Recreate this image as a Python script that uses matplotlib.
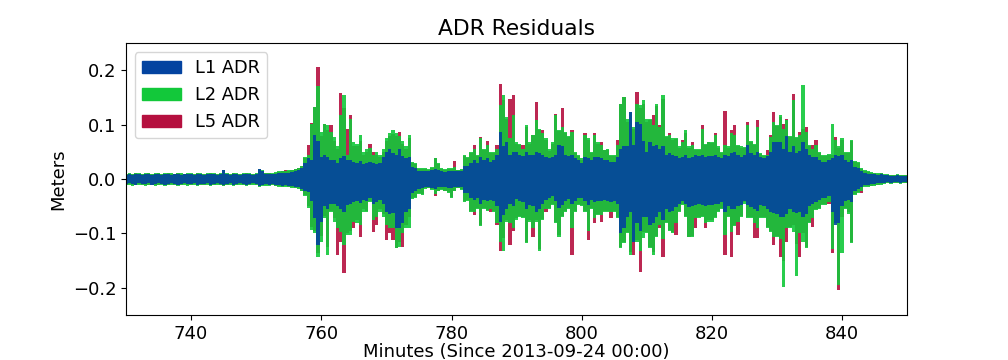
import numpy as np
import matplotlib
matplotlib.use("Agg")
import matplotlib.pyplot as plt
from matplotlib.patches import Patch

# residual envelopes, in millimetres, every half minute 730..850
minutes = np.arange(730, 850.5, 0.5)

l1_hi = [8, 9, 8, 9, 10, 8, 9, 9, 8, 10, 9, 8, 9, 10, 8, 9, 9, 8, 10, 9,
         9, 8, 10, 9, 8, 9, 10, 9, 8, 9, 16, 9, 8, 10, 9, 8, 9, 10, 9, 8,
         9, 18, 15, 9, 10, 9, 10, 11, 12, 11, 12, 13, 15, 17, 20, 30, 38, 35, 81, 70,
         40, 45, 40, 35, 35, 30, 38, 42, 36, 35, 32, 30, 34, 28, 30, 32, 30, 28, 30, 40,
         50, 55, 48, 45, 56, 42, 38, 40, 22, 20, 14, 14, 15, 14, 16, 18, 17, 14, 13, 14,
         14, 15, 14, 15, 25, 25, 30, 35, 30, 40, 35, 38, 32, 35, 45, 87, 60, 68, 45, 50,
         50, 45, 42, 50, 45, 44, 50, 48, 45, 40, 38, 40, 45, 62, 60, 44, 42, 45, 38, 35,
         30, 40, 38, 35, 40, 40, 38, 36, 35, 32, 32, 40, 56, 60, 60, 124, 62, 105, 102, 70,
         50, 68, 60, 62, 55, 60, 45, 48, 45, 42, 38, 40, 45, 38, 40, 44, 42, 45, 40, 42,
         42, 44, 40, 38, 45, 42, 48, 50, 45, 40, 44, 62, 48, 45, 50, 40, 38, 42, 50, 68,
         68, 68, 55, 80, 50, 60, 48, 52, 68, 55, 44, 40, 40, 35, 32, 32, 35, 38, 44, 42,
         45, 35, 32, 35, 22, 20, 14, 11, 10, 10, 9, 8, 9, 7, 7, 6, 6, 7, 6, 6, 6]
l1_lo = [-9, -8, -9, -10, -8, -9, -9, -8, -10, -9, -8, -9, -10, -9, -8, -9, -10, -9, -8, -9,
         -9, -8, -10, -9, -9, -8, -10, -9, -8, -9, -11, -9, -8, -10, -9, -8, -9, -10, -9, -8,
         -9, -13, -10, -9, -10, -9, -10, -11, -12, -11, -12, -12, -14, -14, -18, -22, -23, -40, -72, -121,
         -78, -50, -55, -45, -45, -50, -55, -60, -48, -45, -42, -40, -44, -38, -40, -35, -45, -42, -38, -45,
         -60, -65, -62, -90, -90, -80, -60, -55, -25, -22, -18, -17, -15, -14, -16, -18, -15, -14, -15, -16,
         -16, -15, -14, -15, -25, -25, -35, -38, -35, -45, -38, -40, -38, -40, -50, -78, -66, -55, -45, -50,
         -36, -40, -42, -55, -48, -50, -60, -55, -45, -38, -35, -32, -40, -54, -48, -40, -36, -45, -40, -35,
         -35, -40, -48, -38, -42, -40, -40, -38, -40, -42, -40, -45, -100, -90, -70, -60, -115, -80, -95, -70,
         -70, -85, -80, -70, -60, -75, -55, -60, -58, -52, -45, -40, -45, -52, -50, -48, -45, -48, -50, -48,
         -48, -45, -45, -42, -60, -50, -55, -55, -50, -48, -40, -48, -52, -55, -58, -48, -50, -55, -60, -62,
         -65, -70, -70, -65, -55, -60, -62, -60, -70, -65, -50, -45, -42, -38, -35, -35, -32, -60, -84, -80,
         -50, -40, -38, -42, -22, -18, -14, -11, -10, -9, -9, -8, -8, -7, -6, -7, -6, -6, -7, -6, -6]

l2_hi = [10, 11, 10, 12, 11, 10, 11, 12, 10, 11, 12, 10, 11, 12, 11, 10, 12, 11, 10, 11,
         11, 10, 12, 11, 10, 11, 12, 11, 10, 11, 17, 11, 10, 12, 11, 10, 11, 12, 11, 10,
         11, 19, 16, 12, 12, 11, 13, 14, 15, 14, 16, 17, 19, 21, 25, 40, 44, 102, 133, 172,
         87, 102, 99, 87, 78, 60, 117, 155, 44, 111, 69, 65, 81, 50, 55, 58, 45, 50, 44, 55,
         75, 85, 90, 85, 80, 70, 60, 81, 32, 30, 20, 20, 20, 18, 22, 39, 30, 20, 18, 20,
         20, 22, 17, 18, 44, 40, 50, 55, 45, 75, 56, 62, 50, 50, 55, 136, 154, 115, 75, 118,
         68, 65, 55, 99, 68, 81, 108, 93, 85, 75, 55, 68, 117, 90, 95, 87, 80, 87, 50, 45,
         38, 81, 75, 50, 81, 68, 62, 53, 55, 45, 44, 62, 139, 151, 110, 124, 96, 139, 136, 145,
         110, 111, 100, 139, 96, 154, 80, 81, 75, 75, 60, 68, 90, 60, 62, 56, 56, 93, 65, 68,
         68, 81, 60, 50, 62, 60, 84, 81, 62, 60, 59, 99, 70, 65, 96, 48, 44, 45, 78, 105,
         100, 117, 92, 108, 80, 145, 78, 81, 174, 87, 62, 56, 62, 50, 44, 44, 47, 102, 72, 60,
         75, 50, 50, 72, 34, 32, 20, 16, 14, 13, 12, 11, 12, 9, 9, 8, 8, 9, 8, 8, 8]
l2_lo = [-11, -10, -12, -11, -10, -11, -12, -11, -10, -12, -11, -10, -12, -11, -10, -11, -12, -11, -10, -12,
         -11, -10, -12, -11, -11, -10, -12, -11, -10, -11, -13, -11, -10, -12, -11, -10, -11, -12, -11, -10,
         -11, -14, -12, -12, -12, -11, -13, -14, -15, -14, -15, -16, -17, -18, -22, -32, -54, -94, -100, -143,
         -115, -72, -139, -60, -78, -90, -97, -121, -102, -103, -78, -80, -85, -60, -60, -42, -75, -70, -60, -70,
         -85, -90, -90, -127, -124, -100, -90, -90, -36, -35, -28, -30, -18, -17, -20, -28, -22, -20, -22, -25,
         -35, -22, -17, -20, -42, -40, -60, -60, -55, -87, -55, -58, -55, -60, -81, -115, -133, -78, -80, -90,
         -75, -70, -72, -118, -78, -90, -78, -133, -75, -55, -55, -48, -80, -106, -70, -60, -55, -90, -60, -48,
         -50, -60, -96, -55, -72, -66, -66, -60, -60, -60, -60, -72, -127, -118, -100, -139, -115, -115, -133, -108,
         -100, -127, -139, -106, -85, -110, -80, -96, -100, -80, -60, -48, -70, -106, -106, -72, -72, -70, -80, -78,
         -78, -72, -60, -55, -103, -70, -97, -87, -78, -70, -45, -72, -72, -80, -90, -72, -72, -90, -97, -106,
         -106, -110, -198, -90, -90, -97, -179, -100, -115, -127, -80, -72, -57, -55, -48, -48, -42, -128, -80, -195,
         -136, -55, -65, -118, -30, -25, -22, -14, -14, -13, -12, -11, -10, -9, -8, -9, -8, -8, -9, -8, -8]

l5_hi = [9, 10, 9, 11, 10, 9, 10, 11, 9, 10, 11, 9, 10, 11, 10, 9, 11, 10, 9, 10,
         10, 9, 11, 10, 9, 10, 11, 10, 9, 10, 16, 10, 9, 11, 10, 9, 10, 11, 10, 9,
         10, 18, 15, 11, 11, 10, 12, 13, 14, 16, 15, 16, 18, 20, 24, 39, 62, 104, 133, 206,
         80, 102, 90, 99, 70, 55, 159, 130, 93, 117, 60, 60, 70, 45, 50, 65, 50, 45, 40, 50,
         70, 80, 83, 80, 87, 65, 55, 75, 30, 28, 19, 19, 18, 17, 20, 39, 28, 19, 17, 19,
         19, 33, 16, 17, 42, 38, 48, 62, 43, 78, 54, 70, 48, 48, 62, 175, 145, 110, 148, 155,
         65, 62, 62, 95, 65, 81, 142, 90, 90, 72, 52, 65, 120, 88, 130, 85, 78, 90, 48, 43,
         36, 84, 72, 48, 84, 65, 68, 53, 53, 43, 42, 72, 139, 151, 105, 118, 92, 160, 130, 139,
         105, 108, 117, 135, 99, 148, 78, 84, 72, 73, 58, 72, 85, 58, 68, 54, 54, 99, 62, 68,
         66, 84, 58, 48, 126, 58, 90, 99, 60, 58, 57, 105, 68, 63, 108, 46, 42, 53, 81, 124,
         98, 114, 102, 111, 78, 157, 76, 87, 93, 96, 60, 62, 72, 48, 42, 42, 45, 44, 78, 58,
         72, 48, 48, 70, 32, 30, 19, 15, 13, 12, 11, 10, 11, 8, 8, 7, 7, 8, 7, 7, 7]
l5_lo = [-10, -9, -11, -10, -9, -10, -11, -10, -9, -11, -10, -9, -11, -10, -9, -10, -11, -10, -9, -11,
         -10, -9, -11, -10, -10, -9, -11, -10, -9, -10, -12, -10, -9, -11, -10, -9, -10, -11, -10, -9,
         -10, -13, -11, -11, -11, -10, -12, -13, -14, -13, -14, -15, -16, -17, -21, -30, -50, -88, -95, -136,
         -105, -68, -125, -58, -72, -139, -115, -173, -100, -95, -90, -75, -106, -55, -58, -40, -97, -85, -55, -65,
         -112, -100, -112, -127, -115, -124, -85, -70, -34, -33, -26, -28, -17, -16, -19, -32, -21, -19, -21, -24,
         -33, -21, -16, -19, -40, -38, -58, -66, -53, -84, -53, -56, -60, -58, -84, -133, -109, -75, -121, -95,
         -72, -68, -70, -115, -75, -106, -75, -128, -73, -60, -53, -46, -78, -102, -68, -58, -53, -139, -58, -46,
         -48, -58, -112, -53, -81, -64, -78, -58, -58, -72, -58, -70, -125, -115, -98, -135, -139, -112, -170, -97,
         -98, -124, -135, -104, -90, -143, -78, -94, -98, -103, -58, -46, -68, -106, -104, -90, -70, -68, -90, -76,
         -76, -70, -58, -53, -139, -68, -143, -85, -103, -68, -43, -70, -70, -109, -109, -70, -70, -88, -95, -121,
         -104, -143, -150, -115, -88, -85, -120, -143, -100, -124, -78, -88, -55, -53, -46, -46, -45, -136, -78, -204,
         -70, -53, -60, -115, -28, -24, -25, -13, -13, -12, -11, -10, -9, -8, -7, -8, -7, -7, -8, -7, -7]

labels = ["L1 ADR", "L2 ADR", "L5 ADR"]
colors = ["#0343a0", "#12c83a", "#b5103f"]

fig, ax = plt.subplots(figsize=(10.08, 3.6), dpi=100)
fig.subplots_adjust(left=0.125, right=0.9, top=0.88, bottom=0.125)

# L5 at the back, L1 on top
series = [(l5_lo, l5_hi, colors[2]), (l2_lo, l2_hi, colors[1]), (l1_lo, l1_hi, colors[0])]
for lo, hi, c in series:
    ax.fill_between(minutes, np.array(lo) / 1000, np.array(hi) / 1000,
                    step="mid", color=c, alpha=0.9, linewidth=0)

ax.set_xlim(730, 850)
ax.set_ylim(-0.25, 0.25)
ax.set_xticks([740, 760, 780, 800, 820, 840])
ax.set_yticks([-0.2, -0.1, 0.0, 0.1, 0.2])
ax.tick_params(labelsize=13)
ax.set_title("ADR Residuals", fontsize=15.7)
ax.set_xlabel("Minutes (Since 2013-09-24 00:00)", fontsize=13, labelpad=0)
ax.set_ylabel("Meters", fontsize=13)

handles = [Patch(color=c, label=l) for c, l in zip(colors, labels)]
ax.legend(handles=handles, loc="upper left", fontsize=12.8, handlelength=2.2)

fig.savefig("out.png")
